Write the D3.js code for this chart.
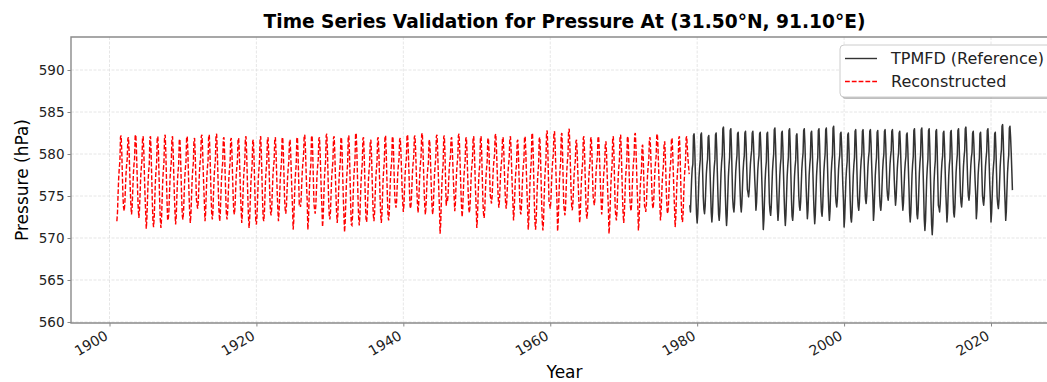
<!DOCTYPE html>
<html>
<head>
<meta charset="utf-8">
<script src="https://cdn.jsdelivr.net/npm/d3@7"></script>
<style>
  body { margin: 0; background: #fff; }
  svg { display: block; font-family: "DejaVu Sans", sans-serif; }
</style>
</head>
<body>
<svg id="chart" width="1047" height="382"></svg>
<script>
// Monthly pressure (hPa), Jan..Dec, one row per year
var reconStartYear = 1901;
var recon1901_1930 = [
  572.0, 573.0, 575.1, 577.1, 578.3, 579.1, 582.0, 582.2, 580.4, 577.6, 574.9, 573.6,
  573.2, 574.1, 575.8, 577.6, 578.7, 579.4, 581.8, 582.0, 580.4, 578.0, 575.7, 573.8,
  572.8, 573.7, 575.6, 577.5, 578.7, 579.4, 582.1, 582.3, 580.6, 578.0, 575.4, 573.5,
  572.4, 573.4, 575.3, 577.3, 578.4, 579.2, 581.9, 582.1, 580.4, 577.7, 575.1, 573.2,
  571.1, 572.2, 574.4, 576.6, 577.9, 578.8, 581.9, 582.1, 580.1, 577.2, 574.2, 572.0,
  571.3, 572.4, 574.5, 576.7, 578.0, 578.9, 581.9, 582.1, 580.2, 577.2, 574.3, 572.2,
  571.2, 572.3, 574.5, 576.8, 578.1, 579.0, 582.1, 582.3, 580.3, 577.3, 574.3, 572.1,
  572.2, 573.2, 575.2, 577.2, 578.3, 579.1, 581.9, 582.1, 580.3, 577.6, 575.0, 573.0,
  571.6, 572.6, 574.7, 576.7, 577.9, 578.7, 581.6, 581.8, 580.0, 577.2, 574.5, 572.6,
  572.2, 573.2, 575.2, 577.2, 578.3, 579.1, 581.9, 582.1, 580.3, 577.6, 575.0, 573.0,
  571.8, 572.8, 574.8, 576.9, 578.1, 578.9, 581.7, 581.9, 580.1, 577.4, 574.6, 574.0,
  573.5, 574.4, 576.1, 577.9, 579.0, 579.7, 582.1, 582.3, 580.7, 578.3, 576.0, 574.2,
  572.0, 573.0, 575.1, 577.2, 578.4, 579.2, 582.1, 582.3, 580.4, 577.7, 574.9, 572.8,
  572.2, 573.2, 575.3, 577.3, 578.5, 579.3, 582.2, 582.4, 580.6, 577.8, 575.1, 573.0,
  572.0, 573.0, 575.0, 577.0, 578.2, 579.0, 581.8, 582.0, 580.2, 577.5, 574.8, 572.8,
  572.2, 573.2, 575.1, 577.1, 578.2, 579.0, 581.7, 581.9, 580.2, 577.5, 574.9, 573.2,
  572.8, 573.7, 575.5, 577.4, 578.4, 579.2, 581.7, 581.9, 580.3, 577.8, 575.3, 573.5,
  571.8, 572.8, 574.9, 577.0, 578.2, 579.0, 581.9, 582.1, 580.2, 577.5, 574.7, 572.6,
  571.2, 572.3, 574.4, 576.5, 577.7, 578.6, 581.5, 581.7, 579.8, 577.0, 574.1, 572.0,
  571.6, 572.7, 574.8, 576.9, 578.1, 579.0, 581.9, 582.1, 580.2, 577.4, 574.5, 572.4,
  572.0, 573.0, 575.0, 577.0, 578.2, 579.0, 581.8, 582.0, 580.2, 577.5, 574.8, 573.1,
  572.7, 573.6, 575.5, 577.4, 578.5, 579.2, 581.8, 582.0, 580.3, 577.8, 575.3, 573.4,
  572.0, 573.1, 574.9, 577.1, 578.1, 579.1, 581.8, 582.0, 580.1, 577.6, 574.7, 573.4,
  572.9, 573.8, 575.5, 577.3, 578.4, 579.1, 581.5, 581.7, 580.1, 577.7, 575.4, 573.6,
  571.0, 572.1, 574.3, 576.5, 577.8, 578.7, 581.8, 582.0, 580.0, 577.1, 574.1, 574.2,
  573.7, 574.6, 576.3, 578.0, 579.0, 579.7, 582.1, 582.3, 580.8, 578.4, 576.1, 574.4,
  571.0, 572.1, 574.4, 576.6, 577.9, 578.8, 582.0, 582.2, 580.2, 577.2, 574.1, 573.4,
  572.9, 573.8, 575.6, 577.5, 578.5, 579.3, 581.8, 582.0, 580.4, 577.9, 575.4, 573.6,
  571.3, 572.4, 574.6, 576.9, 578.2, 579.1, 582.2, 582.4, 580.4, 577.4, 574.4, 572.7,
  572.2, 573.2, 575.2, 577.2, 578.3, 579.1, 581.9, 582.1, 580.3, 577.6, 575.0, 573.0
];
var recon1931_1960 = [
  571.8, 572.8, 574.9, 576.9, 578.1, 579.0, 581.8, 582.0, 580.2, 577.4, 574.7, 572.6,
  570.7, 571.9, 574.2, 576.5, 577.8, 578.8, 582.0, 582.2, 580.1, 577.0, 573.9, 571.6,
  571.5, 572.6, 574.8, 577.0, 578.3, 579.2, 582.3, 582.5, 580.5, 577.6, 574.6, 572.4,
  571.5, 572.6, 574.7, 576.8, 578.0, 578.9, 581.8, 582.0, 580.1, 577.3, 574.4, 572.3,
  571.9, 572.9, 574.8, 576.8, 578.0, 578.8, 581.5, 581.7, 580.0, 577.3, 574.6, 572.7,
  572.0, 573.0, 575.0, 577.0, 578.2, 579.0, 581.8, 582.0, 580.2, 577.5, 574.8, 572.8,
  571.8, 572.8, 574.9, 577.0, 578.2, 579.1, 582.0, 582.2, 580.3, 577.5, 574.7, 572.6,
  572.1, 573.1, 575.1, 577.1, 578.3, 579.1, 581.9, 582.1, 580.3, 577.6, 574.9, 574.1,
  573.6, 574.4, 576.1, 577.8, 578.7, 579.4, 581.7, 581.9, 580.4, 578.2, 575.9, 574.3,
  573.1, 574.0, 575.9, 577.7, 578.8, 579.5, 582.1, 582.3, 580.6, 578.2, 575.7, 573.8,
  573.5, 574.4, 576.1, 577.9, 578.9, 579.6, 582.0, 582.2, 580.6, 578.3, 575.9, 574.2,
  573.0, 574.0, 575.9, 577.8, 578.9, 579.7, 582.3, 582.5, 580.8, 578.2, 575.7, 573.8,
  572.8, 573.7, 575.5, 577.3, 578.3, 579.0, 581.5, 581.7, 580.1, 577.7, 575.3, 573.5,
  572.8, 573.8, 575.7, 577.6, 578.7, 579.5, 582.1, 582.3, 580.6, 578.0, 575.5, 573.6,
  570.5, 571.7, 574.0, 576.4, 577.8, 578.7, 582.0, 582.2, 580.1, 576.9, 573.8, 574.8,
  574.3, 575.1, 576.6, 578.2, 579.1, 579.7, 581.8, 582.0, 580.6, 578.5, 576.5, 574.9,
  573.2, 574.1, 576.0, 577.8, 578.9, 579.6, 582.2, 582.4, 580.7, 578.3, 575.8, 573.9,
  572.5, 573.5, 575.4, 577.3, 578.4, 579.2, 581.8, 582.0, 580.3, 577.7, 575.2, 573.4,
  573.0, 573.9, 575.7, 577.6, 578.6, 579.4, 581.9, 582.1, 580.5, 578.0, 575.5, 573.7,
  571.2, 572.3, 574.5, 576.7, 578.0, 578.8, 581.9, 582.1, 580.1, 577.2, 574.3, 572.9,
  572.4, 573.4, 575.3, 577.2, 578.3, 579.1, 581.7, 581.9, 580.2, 577.6, 575.1, 574.6,
  574.1, 574.9, 576.6, 578.3, 579.2, 579.9, 582.2, 582.4, 580.9, 578.7, 576.4, 574.8,
  573.6, 574.4, 576.1, 577.8, 578.8, 579.5, 581.8, 582.0, 580.5, 578.2, 575.9, 574.3,
  573.5, 574.4, 576.1, 577.8, 578.8, 579.5, 581.9, 582.1, 580.6, 578.2, 575.9, 574.2,
  572.1, 573.1, 575.0, 576.9, 578.1, 578.8, 581.5, 581.7, 580.0, 577.4, 574.8, 573.2,
  572.8, 573.7, 575.6, 577.5, 578.6, 579.3, 581.9, 582.1, 580.4, 577.9, 575.4, 573.5,
  571.0, 572.2, 574.5, 576.8, 578.1, 579.1, 582.3, 582.5, 580.4, 577.3, 574.2, 571.9,
  571.0, 572.1, 574.3, 576.5, 577.8, 578.7, 581.8, 582.0, 580.0, 577.1, 574.1, 571.9,
  570.9, 572.1, 574.5, 576.9, 578.3, 579.2, 582.6, 582.8, 580.7, 577.4, 574.2, 574.0,
  573.5, 574.4, 576.3, 578.1, 579.2, 579.9, 582.5, 582.7, 581.0, 578.6, 576.1, 574.2
];
var recon1961_1978 = [
  570.8, 572.0, 574.3, 576.7, 578.1, 579.0, 582.3, 582.5, 580.4, 577.2, 574.1, 573.2,
  572.7, 573.7, 575.8, 577.9, 579.1, 579.9, 582.8, 583.0, 581.1, 578.4, 575.6, 573.8,
  573.3, 574.1, 575.8, 577.5, 578.5, 579.2, 581.5, 581.7, 580.2, 577.9, 575.7, 574.0,
  571.8, 572.8, 574.9, 577.0, 578.2, 579.0, 581.9, 582.1, 580.2, 577.5, 574.7, 572.8,
  572.3, 573.3, 575.2, 577.2, 578.3, 579.1, 581.8, 582.0, 580.3, 577.6, 575.0, 574.4,
  573.9, 574.7, 576.4, 578.0, 579.0, 579.6, 581.9, 582.1, 580.6, 578.4, 576.2, 574.6,
  572.8, 573.7, 575.4, 577.2, 578.2, 578.9, 581.3, 581.5, 579.9, 577.6, 575.2, 573.5,
  570.5, 571.7, 574.0, 576.3, 577.7, 578.6, 581.9, 582.1, 580.0, 576.9, 573.7, 572.6,
  572.1, 573.1, 575.2, 577.2, 578.4, 579.2, 582.1, 582.3, 580.5, 577.7, 575.0, 572.9,
  571.8, 572.8, 574.9, 577.0, 578.2, 579.0, 581.9, 582.1, 580.2, 577.5, 574.7, 573.7,
  573.2, 574.1, 576.0, 577.9, 579.0, 579.7, 582.3, 582.5, 580.8, 578.3, 575.8, 573.9,
  570.9, 571.9, 574.0, 576.0, 577.2, 578.0, 580.9, 581.1, 579.3, 576.5, 573.8, 573.6,
  573.1, 574.0, 575.8, 577.6, 578.6, 579.3, 581.8, 582.0, 580.4, 578.0, 575.6, 573.9,
  573.5, 574.4, 576.2, 578.0, 579.0, 579.7, 582.2, 582.4, 580.8, 578.4, 576.0, 574.2,
  572.1, 573.0, 574.9, 576.8, 577.9, 578.7, 581.3, 581.5, 579.8, 577.3, 574.7, 573.2,
  572.9, 573.8, 575.6, 577.4, 578.5, 579.2, 581.7, 581.9, 580.3, 577.9, 575.4, 573.6,
  571.3, 572.4, 574.5, 576.7, 578.0, 578.9, 581.9, 582.1, 580.2, 577.2, 574.3, 572.4,
  571.9, 572.9, 575.0, 577.0, 578.2, 579.0, 581.9, 582.1, 580.6, 579.4, 578.5, 577.6
];

var refStartYear = 1979;
var ref1979_2000 = [
  573.9, 573.1, 575.0, 577.0, 578.3, 578.8, 582.2, 582.4, 580.7, 578.0, 575.0, 572.8,
  571.8, 572.9, 575.0, 577.2, 578.4, 579.3, 582.3, 582.5, 580.6, 577.7, 574.8, 573.4,
  572.9, 573.8, 575.7, 577.6, 578.7, 579.4, 582.0, 582.2, 580.5, 578.0, 575.5, 573.0,
  571.9, 573.0, 575.1, 577.2, 578.5, 579.3, 582.3, 582.5, 580.6, 577.7, 574.9, 572.8,
  572.1, 573.2, 575.4, 577.7, 579.0, 579.9, 583.0, 583.2, 581.2, 578.2, 575.2, 572.9,
  571.5, 572.7, 575.0, 577.3, 578.6, 579.6, 582.8, 583.0, 580.9, 577.8, 574.7, 573.6,
  573.1, 574.1, 576.0, 577.9, 579.0, 579.8, 582.4, 582.6, 580.9, 578.3, 575.8, 573.9,
  573.1, 574.1, 576.0, 577.9, 579.1, 579.8, 582.5, 582.7, 581.0, 578.4, 575.8, 575.4,
  574.9, 575.7, 577.2, 578.8, 579.7, 580.4, 582.5, 582.7, 581.3, 579.2, 577.1, 575.5,
  573.3, 574.2, 576.1, 578.0, 579.1, 579.8, 582.4, 582.6, 580.9, 578.4, 575.9, 573.4,
  571.0, 572.2, 574.5, 576.8, 578.2, 579.1, 582.4, 582.6, 580.5, 577.4, 574.2, 573.2,
  572.7, 573.7, 575.8, 577.9, 579.1, 580.0, 582.9, 583.1, 581.2, 578.4, 575.6, 573.5,
  572.1, 573.2, 575.3, 577.4, 578.7, 579.5, 582.5, 582.7, 580.8, 577.9, 575.1, 572.9,
  571.5, 572.7, 575.0, 577.3, 578.6, 579.6, 582.8, 583.0, 580.9, 577.8, 574.7, 572.6,
  572.1, 573.1, 575.2, 577.3, 578.5, 579.3, 582.2, 582.4, 580.5, 577.8, 575.0, 573.8,
  573.3, 574.3, 576.2, 578.2, 579.3, 580.1, 582.8, 583.0, 581.3, 578.6, 576.0, 574.1,
  572.3, 573.3, 575.4, 577.5, 578.7, 579.6, 582.5, 582.7, 580.8, 578.0, 575.2, 573.1,
  571.7, 572.8, 575.1, 577.4, 578.7, 579.6, 582.8, 583.0, 581.0, 577.9, 574.9, 573.1,
  572.6, 573.7, 575.8, 577.9, 579.1, 580.0, 582.9, 583.1, 581.2, 578.4, 575.5, 573.4,
  572.1, 573.2, 575.5, 577.7, 579.0, 579.9, 583.1, 583.3, 581.3, 578.3, 575.2, 574.2,
  573.7, 574.6, 576.4, 578.2, 579.2, 579.9, 582.4, 582.6, 581.0, 578.6, 576.2, 574.4,
  571.3, 572.4, 574.7, 576.9, 578.2, 579.1, 582.3, 582.5, 580.5, 577.5, 574.4, 572.4
];
var ref2001_2022 = [
  571.9, 573.0, 575.2, 577.4, 578.7, 579.6, 582.7, 582.9, 580.9, 578.0, 575.0, 573.8,
  573.3, 574.3, 576.2, 578.1, 579.3, 580.0, 582.7, 582.9, 581.2, 578.6, 576.0, 574.6,
  574.1, 575.0, 576.7, 578.5, 579.6, 580.3, 582.7, 582.9, 581.3, 578.9, 576.6, 574.8,
  572.1, 573.2, 575.3, 577.5, 578.7, 579.6, 582.6, 582.8, 580.9, 578.0, 575.1, 573.8,
  573.3, 574.3, 576.2, 578.1, 579.3, 580.0, 582.7, 582.9, 581.2, 578.6, 576.0, 575.0,
  574.5, 575.3, 577.0, 578.7, 579.7, 580.4, 582.7, 582.9, 581.4, 579.1, 576.9, 575.2,
  573.9, 574.8, 576.5, 578.3, 579.4, 580.1, 582.5, 582.7, 581.1, 578.7, 576.4, 574.6,
  573.3, 574.2, 576.1, 577.9, 579.0, 579.7, 582.3, 582.5, 580.8, 578.4, 575.9, 573.0,
  571.9, 573.0, 575.2, 577.5, 578.8, 579.7, 582.8, 583.0, 581.0, 578.0, 575.0, 572.8,
  572.3, 573.4, 575.5, 577.7, 579.0, 579.9, 582.9, 583.1, 581.2, 578.2, 575.3, 572.2,
  570.9, 572.1, 574.5, 577.0, 578.4, 579.4, 582.8, 583.0, 580.8, 577.6, 574.3, 571.6,
  570.4, 571.7, 574.2, 576.7, 578.2, 579.2, 582.7, 582.9, 580.7, 577.3, 573.9, 573.6,
  573.1, 574.1, 576.0, 577.9, 579.1, 579.8, 582.5, 582.7, 581.0, 578.4, 575.8, 573.9,
  571.9, 573.0, 575.2, 577.4, 578.7, 579.5, 582.6, 582.8, 580.8, 577.9, 575.0, 573.0,
  572.5, 573.6, 575.7, 577.8, 579.0, 579.9, 582.8, 583.0, 581.1, 578.3, 575.4, 574.2,
  573.7, 574.7, 576.6, 578.5, 579.6, 580.4, 583.0, 583.2, 581.5, 578.9, 576.4, 575.0,
  574.5, 575.3, 577.0, 578.6, 579.6, 580.2, 582.5, 582.7, 581.2, 579.0, 576.8, 575.2,
  572.3, 573.3, 575.4, 577.5, 578.7, 579.5, 582.4, 582.6, 580.7, 578.0, 575.2, 574.4,
  573.9, 574.8, 576.6, 578.5, 579.5, 580.3, 582.8, 583.0, 581.4, 578.9, 576.4, 574.6,
  571.9, 573.0, 575.1, 577.3, 578.5, 579.4, 582.4, 582.6, 580.7, 577.8, 574.9, 574.0,
  573.5, 574.5, 576.5, 578.5, 579.7, 580.5, 583.3, 583.5, 581.7, 579.0, 576.3, 574.3,
  572.1, 573.2, 575.5, 577.7, 579.0, 579.9, 583.1, 583.3, 582.0, 580.2, 578.0, 575.7
];

var yTicks = [560, 565, 570, 575, 580, 585, 590];
var titleText = "Time Series Validation for Pressure At (31.50°N, 91.10°E)";
var seriesNames = ["TPMFD (Reference)", "Reconstructed"];
var seriesColors = ["#333333", "#ff0000"];

// turn a flat monthly list into {date, value} points
function toPoints(values, startYear) {
  return values.map(function(v, i) {
    return { date: new Date(Date.UTC(startYear + Math.floor(i / 12), i % 12, 1)), value: v };
  });
}

var reconData = toPoints(recon1901_1930.concat(recon1931_1960, recon1961_1978), reconStartYear);
var refData = toPoints(ref1979_2000.concat(ref2001_2022), refStartYear);

var svg = d3.select("#chart");
var plotLeft = 71, plotRight = 1058, plotTop = 37, plotBottom = 323;

var x = d3.scaleUtc()
    .domain([new Date(Date.UTC(1894, 9, 4)), new Date(Date.UTC(2029, 1, 13))])
    .range([plotLeft, plotRight]);
var y = d3.scaleLinear()
    .domain([559.88, 593.93])
    .range([plotBottom, plotTop]);

// grid
var grid = svg.append("g").attr("class", "grid");
grid.selectAll("line.gx")
    .data(x.ticks(d3.utcYear.every(20)))
    .enter().append("line")
    .attr("x1", function(d) { return x(d); }).attr("x2", function(d) { return x(d); })
    .attr("y1", plotTop).attr("y2", plotBottom);
grid.selectAll("line.gy")
    .data(yTicks)
    .enter().append("line")
    .attr("x1", plotLeft).attr("x2", plotRight)
    .attr("y1", function(d) { return y(d); }).attr("y2", function(d) { return y(d); });
grid.selectAll("line")
    .attr("stroke", "#e0e0e0")
    .attr("stroke-width", 0.8)
    .attr("stroke-dasharray", "3,1.5");

// lines
var line = d3.line()
    .x(function(d) { return x(d.date); })
    .y(function(d) { return y(d.value); });

svg.append("path")
    .datum(refData)
    .attr("fill", "none")
    .attr("stroke", seriesColors[0])
    .attr("stroke-width", 1.5)
    .attr("stroke-linejoin", "round")
    .attr("d", line);

svg.append("path")
    .datum(reconData)
    .attr("fill", "none")
    .attr("stroke", seriesColors[1])
    .attr("stroke-width", 1.4)
    .attr("stroke-dasharray", "4.8,2")
    .attr("d", line);

// axes
var yAxis = svg.append("g")
    .attr("transform", "translate(" + plotLeft + ",0)")
    .call(d3.axisLeft(y).tickValues(yTicks).tickSize(3.5).tickPadding(3).tickFormat(d3.format("d")));
var xAxis = svg.append("g")
    .attr("transform", "translate(0," + plotBottom + ")")
    .call(d3.axisBottom(x).ticks(d3.utcYear.every(20)).tickSize(3.5).tickFormat(d3.utcFormat("%Y")));

[yAxis, xAxis].forEach(function(a) {
  a.select(".domain").remove();
  a.selectAll(".tick line").attr("stroke", "#888");
  a.selectAll(".tick text")
      .attr("fill", "#222")
      .style("font-size", "13.5px")
      .style("font-family", "DejaVu Sans, sans-serif");
});
xAxis.selectAll(".tick text")
    .attr("y", 0).attr("dy", 0)
    .attr("text-anchor", "end")
    .style("font-size", "14px")
    .attr("transform", "translate(-1,15.5) rotate(-30)");

// spines (left, bottom, top; right edge falls outside the picture)
svg.append("path")
    .attr("d", "M" + plotRight + "," + plotTop + "H" + plotLeft + "V" + plotBottom + "H" + plotRight)
    .attr("fill", "none")
    .attr("stroke", "#8a8a8a")
    .attr("stroke-width", 1.4);

// title and labels
svg.append("text")
    .attr("x", (plotLeft + plotRight) / 2).attr("y", 28)
    .attr("text-anchor", "middle")
    .style("font-size", "18.6px").style("font-weight", "bold")
    .text(titleText);
svg.append("text")
    .attr("x", (plotLeft + plotRight) / 2).attr("y", 378)
    .attr("text-anchor", "middle")
    .style("font-size", "17px")
    .text("Year");
svg.append("text")
    .attr("transform", "translate(28," + (plotTop + plotBottom) / 2 + ") rotate(-90)")
    .attr("text-anchor", "middle")
    .style("font-size", "17px")
    .text("Pressure (hPa)");

// legend
var legend = svg.append("g").attr("transform", "translate(840,45)");
legend.append("rect")
    .attr("x", 2).attr("y", 2).attr("width", 216).attr("height", 52).attr("rx", 4)
    .attr("fill", "#000").attr("opacity", 0.25);
legend.append("rect")
    .attr("width", 216).attr("height", 52).attr("rx", 4)
    .attr("fill", "#fff").attr("stroke", "#cccccc").attr("stroke-width", 1);
var items = legend.selectAll("g.item")
    .data(seriesNames)
    .enter().append("g")
    .attr("transform", function(d, i) { return "translate(0," + (13.5 + i * 23) + ")"; });
items.append("line")
    .attr("x1", 5).attr("x2", 37)
    .attr("stroke", function(d) { return seriesColors[seriesNames.indexOf(d)]; })
    .attr("stroke-width", 1.4)
    .attr("stroke-dasharray", function(d) { return seriesNames.indexOf(d) === 1 ? "4.8,2" : null; });
items.append("text")
    .attr("x", 51).attr("dy", "0.36em")
    .style("font-size", "16px")
    .attr("fill", "#222")
    .text(function(d) { return d; });
</script>
</body>
</html>
